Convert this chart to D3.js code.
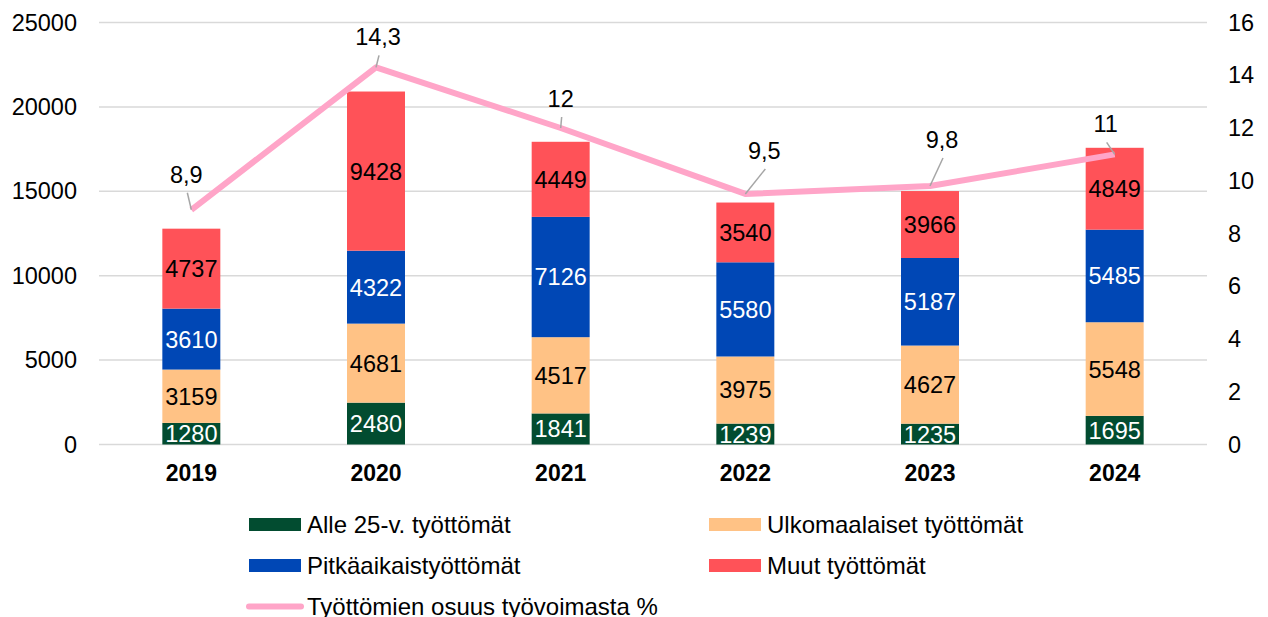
<!DOCTYPE html>
<html>
<head>
<meta charset="utf-8">
<script src="https://cdn.jsdelivr.net/npm/d3@7"></script>
<style>
  body { margin: 0; background: #fff; }
  svg { display: block; font-family: "Liberation Sans", Arial, sans-serif; }
</style>
</head>
<body>
<div id="chart"></div>
<script>

// data
const years = ["2019", "2020", "2021", "2022", "2023", "2024"];
const alle25 = [1280, 2480, 1841, 1239, 1235, 1695];
const ulkomaalaiset = [3159, 4681, 4517, 3975, 4627, 5548];
const pitkaaikais = [3610, 4322, 7126, 5580, 5187, 5485];
const muut = [4737, 9428, 4449, 3540, 3966, 4849];
const osuus = [8.9, 14.3, 12, 9.5, 9.8, 11];
const osuusLabels = ["8,9", "14,3", "12", "9,5", "9,8", "11"];
const leftTicks = [0, 5000, 10000, 15000, 20000, 25000];
const rightTicks = [0, 2, 4, 6, 8, 10, 12, 14, 16];

// label nudges for the line values (px, from the point)
const labelShift = [[-5, -27], [2, -22], [0, -21], [19, -35], [12, -38], [-9, -22]];

const series = [
    {key: "alle25", name: "Alle 25-v. työttömät", values: alle25, color: "#024c30", text: "#fff"},
    {key: "ulko", name: "Ulkomaalaiset työttömät", values: ulkomaalaiset, color: "#ffc285", text: "#000"},
    {key: "pitka", name: "Pitkäaikaistyöttömät", values: pitkaaikais, color: "#0047b5", text: "#fff"},
    {key: "muut", name: "Muut työttömät", values: muut, color: "#ff5258", text: "#000"}
];
const lineName = "Työttömien osuus työvoimasta %";
const lineColor = "#ffa5c8";

const table = years.map((y, i) => {
    let row = {year: y};
    series.forEach(s => row[s.key] = s.values[i]);
    return row;
});

const width = 1268, height = 617;
const margin = {top: 22.5, right: 61, bottom: 172.5, left: 99};
const innerW = width - margin.left - margin.right;
const innerH = height - margin.top - margin.bottom;

const svg = d3.select("#chart").append("svg")
    .attr("width", width)
    .attr("height", height);

const g = svg.append("g")
    .attr("transform", `translate(${margin.left},${margin.top})`);

const x = d3.scaleBand()
    .domain(years)
    .range([0, innerW])
    .paddingInner(0.686)
    .paddingOuter(0.343);

const y = d3.scaleLinear().domain([0, 25000]).range([innerH, 0]);
const y2 = d3.scaleLinear().domain([0, 16]).range([innerH, 0]);

// gridlines
g.append("g")
    .selectAll("line")
    .data(leftTicks)
    .join("line")
    .attr("x1", 0)
    .attr("x2", innerW)
    .attr("y1", d => y(d))
    .attr("y2", d => y(d))
    .attr("stroke", "#d9d9d9")
    .attr("stroke-width", 1.5);

// left axis labels
const leftAxis = g.append("g")
    .call(d3.axisLeft(y).tickValues(leftTicks).tickSize(0).tickPadding(22).tickFormat(d3.format("d")));
leftAxis.select(".domain").remove();
leftAxis.selectAll("text")
    .attr("font-size", 23.5)
    .attr("font-family", "Liberation Sans, Arial, sans-serif")
    .attr("fill", "#000");

// right axis labels
const rightAxis = g.append("g")
    .attr("transform", `translate(${innerW},0)`)
    .call(d3.axisRight(y2).tickValues(rightTicks).tickSize(0).tickPadding(21));
rightAxis.select(".domain").remove();
rightAxis.selectAll("text")
    .attr("font-size", 23.5)
    .attr("font-family", "Liberation Sans, Arial, sans-serif")
    .attr("fill", "#000");

// bottom axis (years, bold)
const bottomAxis = g.append("g")
    .attr("transform", `translate(0,${innerH})`)
    .call(d3.axisBottom(x).tickSize(0).tickPadding(20));
bottomAxis.select(".domain").remove();
bottomAxis.selectAll("text")
    .attr("font-size", 23)
    .attr("font-weight", "bold")
    .attr("font-family", "Liberation Sans, Arial, sans-serif")
    .attr("fill", "#000");

const stacked = d3.stack().keys(series.map(s => s.key))(table);

// stacked bars
const layers = g.append("g")
    .selectAll("g")
    .data(stacked)
    .join("g")
    .attr("fill", (d, i) => series[i].color);

layers.selectAll("rect")
    .data(d => d)
    .join("rect")
    .attr("x", d => x(d.data.year))
    .attr("y", d => y(d[1]))
    .attr("width", x.bandwidth())
    .attr("height", d => y(d[0]) - y(d[1]));

// bar value labels
layers.each(function (layer, i) {
    d3.select(this).selectAll("text")
        .data(layer)
        .join("text")
        .attr("x", d => x(d.data.year) + x.bandwidth() / 2)
        .attr("y", d => (y(d[0]) + y(d[1])) / 2)
        .attr("dy", "0.36em")
        .attr("text-anchor", "middle")
        .attr("font-size", 23.5)
        .attr("fill", series[i].text)
        .text(d => d[1] - d[0]);
});

// line on the right axis
const cx = d => x(d) + x.bandwidth() / 2;
const line = d3.line()
    .x((d, i) => cx(years[i]))
    .y(d => y2(d));

g.append("path")
    .datum(osuus)
    .attr("d", line)
    .attr("fill", "none")
    .attr("stroke", lineColor)
    .attr("stroke-width", 6)
    .attr("stroke-linejoin", "round");

// leader lines + labels for the line values
osuus.forEach((v, i) => {
    const px = cx(years[i]), py = y2(v);
    const lx = px + labelShift[i][0], ly = py + labelShift[i][1];
    g.append("line")
        .attr("x1", lx + 1)
        .attr("y1", ly + 10)
        .attr("x2", px)
        .attr("y2", py)
        .attr("stroke", "#a6a6a6")
        .attr("stroke-width", 1.5);
    g.append("text")
        .attr("x", lx)
        .attr("y", ly)
        .attr("text-anchor", "middle")
        .attr("font-size", 23.5)
        .attr("fill", "#000")
        .text(osuusLabels[i]);
});

// legend
const legendItems = series.map(s => ({name: s.name, color: s.color, type: "rect"}));
legendItems.push({name: lineName, color: lineColor, type: "line"});
const legendCols = [249, 709];
const legendRows = [524.5, 565.5, 606.5];

const legend = svg.append("g");
legendItems.forEach((d, i) => {
    const lx = legendCols[i % 2], ly = legendRows[Math.floor(i / 2)];
    if (d.type === "rect") {
        legend.append("rect")
            .attr("x", lx)
            .attr("y", ly - 6.5)
            .attr("width", 52)
            .attr("height", 13)
            .attr("fill", d.color);
    } else {
        legend.append("line")
            .attr("x1", lx)
            .attr("x2", lx + 52)
            .attr("y1", ly)
            .attr("y2", ly)
            .attr("stroke", d.color)
            .attr("stroke-width", 6)
            .attr("stroke-linecap", "round");
    }
    legend.append("text")
        .attr("x", lx + 58)
        .attr("y", ly)
        .attr("dy", "0.36em")
        .attr("font-size", 24)
        .attr("fill", "#000")
        .text(d.name);
});

</script>
</body>
</html>
